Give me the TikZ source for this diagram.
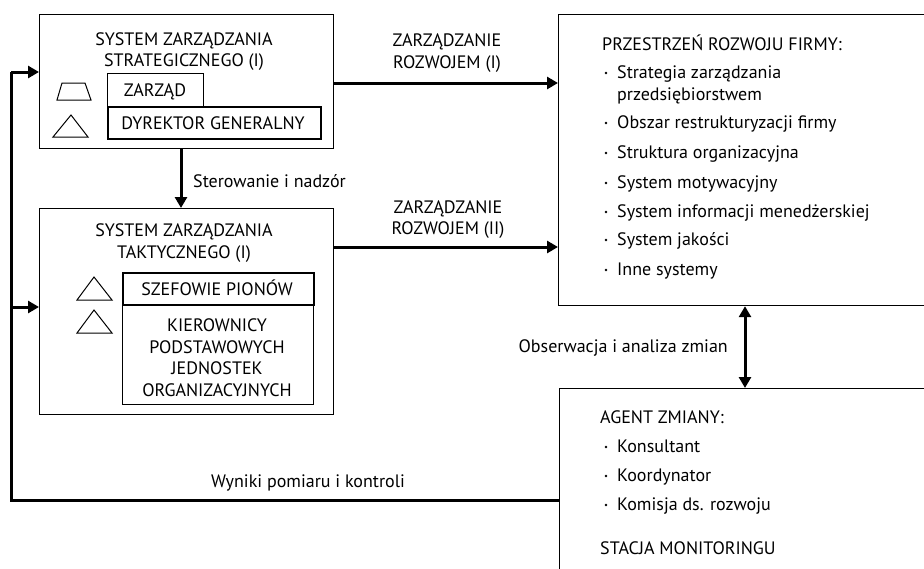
\documentclass[tikz,border=0pt]{standalone}
\usepackage{fontspec}
\setmainfont{PT Sans}
\usetikzlibrary{arrows.meta}
\begin{document}
\begin{tikzpicture}[x=1pt,y=-1pt,
  txt/.style={inner sep=0pt,anchor=base,font=\fontsize{18}{21}\selectfont},
  ltxt/.style={txt,anchor=base west},
  rtxt/.style={txt,anchor=base east},
  outer/.style={draw,line width=1.2pt,inner sep=0pt,anchor=north west},
  inbox/.style={draw,line width=1pt,inner sep=0pt,anchor=north west},
  inboxb/.style={draw,line width=1.9pt,inner sep=0pt,anchor=north west},
  arr/.style={line width=3pt,-{Triangle[length=11pt,width=12pt]}},
  darr/.style={line width=3pt,{Triangle[length=11pt,width=12pt]}-{Triangle[length=11pt,width=12pt]}},
  fb/.style={line width=3pt},
  shp/.style={draw,line width=1pt,line join=miter}]
\useasboundingbox (0,0) rectangle (924,568);
\clip (0,0) rectangle (924,568);
% boxes
\node[outer,minimum width=294pt,minimum height=134pt] (b1) at (39,14) {};
\node[outer,minimum width=294pt,minimum height=206pt] (b2) at (39,208) {};
\node[outer,minimum width=380pt,minimum height=291pt] (prz) at (558,14) {};
\node[outer,minimum width=380pt,minimum height=200pt] (agent) at (559,388) {};
% inner boxes of box 1
\node[inbox,minimum width=96pt,minimum height=33pt] (zarzad) at (107,73) {};
\node[inboxb,minimum width=213pt,minimum height=32pt] (dyr) at (107,106) {};
% inner boxes of box 2
\node[inboxb,minimum width=191pt,minimum height=32pt] (szef) at (122,272) {};
\node[inbox,minimum width=191pt,minimum height=99pt] (kier) at (122,305) {};
% shapes
\draw[shp] (62,83) -- (85,83) -- (91,100) -- (57,100) -- cycle;
\draw[shp] (71,115) -- (88,137) -- (53,137) -- cycle;
\draw[shp] (94,277) -- (112,300) -- (77,300) -- cycle;
\draw[shp] (94,310) -- (112,333) -- (77,333) -- cycle;
% texts box 1
\node[txt] (t1a) at (184,45) {SYSTEM ZARZĄDZANIA};
\node[txt] (t1b) at (184,66) {STRATEGICZNEGO (I)};
\node[txt] (tz) at (155,96) {ZARZĄD};
\node[txt] (td) at (213,129) {DYREKTOR GENERALNY};
% texts box 2
\node[txt] (t2a) at (184,236) {SYSTEM ZARZĄDZANIA};
\node[txt] (t2b) at (184,258) {TAKTYCZNEGO (I)};
\node[txt] (ts) at (217,295) {SZEFOWIE PIONÓW};
\node[txt] (k1) at (217,331) {KIEROWNICY};
\node[txt] (k2) at (217,353) {PODSTAWOWYCH};
\node[txt] (k3) at (217,374) {JEDNOSTEK};
\node[txt] (k4) at (217,396) {ORGANIZACYJNYCH};
% arrow labels
\node[ltxt] (ster) at (193,187) {Sterowanie i nadzór};
\node[txt] (z1a) at (447,46) {ZARZĄDZANIE};
\node[txt] (z1b) at (447,68) {ROZWOJEM (I)};
\node[txt] (z2a) at (448,213) {ZARZĄDZANIE};
\node[txt] (z2b) at (448,234) {ROZWOJEM (II)};
\node[rtxt] (obs) at (728,352) {Obserwacja i analiza zmian};
\node[txt] (wyn) at (308,487) {Wyniki pomiaru i kontroli};
% right box texts
\node[ltxt] (p0) at (602,50) {PRZESTRZEŃ ROZWOJU FIRMY:};
\node[ltxt] (p1) at (617,78) {Strategia zarządzania};
\node[ltxt] (p1b) at (617,100) {przedsiębiorstwem};
\node[ltxt] (p2) at (617,128) {Obszar restrukturyzacji firmy};
\node[ltxt] (p3) at (617,158) {Struktura organizacyjna};
\node[ltxt] (p4) at (617,188) {System motywacyjny};
\node[ltxt] (p5) at (617,217) {System informacji menedżerskiej};
\node[ltxt] (p6) at (617,245) {System jakości};
\node[ltxt] (p7) at (617,275) {Inne systemy};
\foreach \n in {p1,p2,p3,p4,p5,p6,p7}{\fill ([xshift=-11pt,yshift=5pt]\n.base west) circle (1.4pt);}
\node[ltxt] (a0) at (600,423) {AGENT ZMIANY:};
\node[ltxt] (a1) at (617,452) {Konsultant};
\node[ltxt] (a2) at (617,481) {Koordynator};
\node[ltxt] (a3) at (617,510) {Komisja ds. rozwoju};
\node[ltxt] (a4) at (600,554) {STACJA MONITORINGU};
\foreach \n in {a1,a2,a3}{\fill ([xshift=-11pt,yshift=5pt]\n.base west) circle (1.4pt);}
% connectors
\coordinate (y1) at (0,83);
\coordinate (y2) at (0,247);
\coordinate (xd) at (181,0);
\coordinate (xo) at (745,0);
\coordinate (fbx) at (11,0);
\coordinate (fby) at (0,500);
\coordinate (fy1) at (0,72);
\coordinate (fy2) at (0,307);
\draw[arr] (b1.east |- y1) -- (prz.west |- y1);
\draw[arr] (b2.east |- y2) -- (prz.west |- y2);
\draw[arr] (b1.south -| xd) -- (b2.north -| xd);
\draw[darr] (prz.south -| xo) -- (agent.north -| xo);
\draw[fb,line join=miter] (agent.west |- fby) -- (fbx |- fby) -- (fbx |- fy1);
\draw[arr] (fbx |- fy1) -- (b1.west |- fy1);
\draw[arr] (fbx |- fy2) -- (b2.west |- fy2);
\end{tikzpicture}
\end{document}
